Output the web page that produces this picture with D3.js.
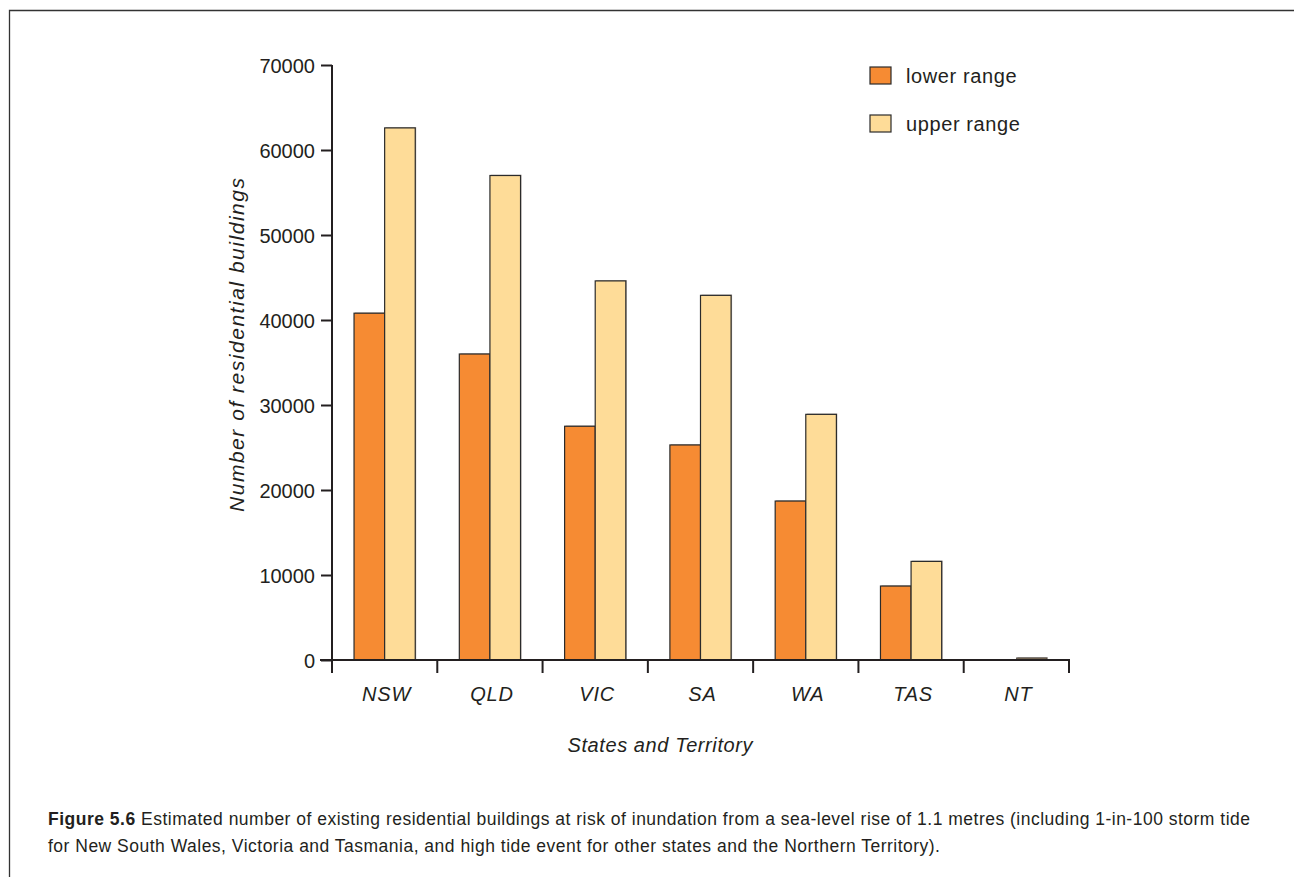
<!DOCTYPE html>
<html>
<head>
<meta charset="utf-8">
<script src="https://cdn.jsdelivr.net/npm/d3@7"></script>
<style>
  html, body { margin: 0; padding: 0; background: #fff; }
  svg { display: block; }
  text { font-family: "Liberation Sans", Arial, Helvetica, sans-serif; fill: #231f20; }
</style>
</head>
<body>
<svg id="chart" width="1294" height="877"></svg>
<script>
const categories = ["NSW", "QLD", "VIC", "SA", "WA", "TAS", "NT"];
const seriesNames = ["lower range", "upper range"];
const lowerRange = [40800, 36000, 27500, 25300, 18700, 8700, 0];
const upperRange = [62600, 57000, 44600, 42900, 28900, 11600, 250];
const yTicks = [0, 10000, 20000, 30000, 40000, 50000, 60000, 70000];
const colors = ["#f68b33", "#fedc98"];
const yTitle = "Number of residential buildings";
const xTitle = "States and Territory";
const captionBold = "Figure 5.6";
const captionLines = [
  " Estimated number of existing residential buildings at risk of inundation from a sea-level rise of 1.1 metres (including 1-in-100 storm tide",
  "for New South Wales, Victoria and Tasmania, and high tide event for other states and the Northern Territory)."
];

const svg = d3.select("#chart");

// frame
svg.append("path")
  .attr("d", "M9.5,877 L9.5,10.5 L1294,10.5")
  .attr("fill", "none").attr("stroke", "#333").attr("stroke-width", 1.3);

const x0 = 332, x1 = 1069, yTop = 65, yBase = 660;

const x = d3.scaleBand().domain(categories).range([x0, x1]).paddingInner(0).paddingOuter(0);
const xs = d3.scaleBand().domain(seriesNames).range([0, x.bandwidth()]).paddingInner(0).paddingOuter(0.72);
const y = d3.scaleLinear().domain([0, 70000]).range([yBase, yTop]);

const data = categories.map((c, i) => ({cat: c, vals: [lowerRange[i], upperRange[i]]}));

// bars
const g = svg.append("g");
data.forEach(d => {
  d.vals.forEach((v, j) => {
    if (v <= 0) return;
    const bx = x(d.cat) + xs(seriesNames[j]);
    const h = yBase - y(v);
    g.append("rect")
      .attr("x", bx + 1).attr("y", y(v) - 0.8)
      .attr("width", xs.bandwidth()).attr("height", h + 0.8)
      .attr("fill", "#8a7f76").attr("opacity", 0.6);
    g.append("rect")
      .attr("x", bx).attr("y", y(v))
      .attr("width", xs.bandwidth()).attr("height", h)
      .attr("fill", h < 4 ? "#7a6a55" : colors[j])
      .attr("stroke", "#2b2b2b").attr("stroke-width", h < 4 ? 0.5 : 1.2);
  });
});

// y axis
const yAxis = d3.axisLeft(y).tickValues(yTicks).tickSize(11).tickPadding(6).tickFormat(d3.format("d"));
const yg = svg.append("g").attr("transform", `translate(${x0},0)`).call(yAxis);
yg.select(".domain").remove();
yg.append("line").attr("x1", 0).attr("x2", 0).attr("y1", yTop).attr("y2", yBase + 13)
  .attr("stroke", "#231f20").attr("stroke-width", 2);
yg.selectAll(".tick line").attr("stroke", "#231f20").attr("stroke-width", 2);
yg.selectAll(".tick text").style("font-size", "20px").attr("fill", "#231f20")
  .style("font-family", "'Liberation Sans', Arial, sans-serif").attr("dy", "0.35em");

// x axis
const xg = svg.append("g").attr("transform", `translate(0,${yBase})`);
xg.append("line").attr("x1", x0 - 12).attr("x2", x1 + 1).attr("y1", 0).attr("y2", 0)
  .attr("stroke", "#231f20").attr("stroke-width", 2);
const tickPos = categories.map(c => x(c)).concat([x(categories[categories.length - 1]) + x.bandwidth()]);
xg.selectAll(".xt").data(tickPos).enter().append("line")
  .attr("x1", d => d).attr("x2", d => d).attr("y1", 0).attr("y2", 13)
  .attr("stroke", "#231f20").attr("stroke-width", 2);
xg.selectAll(".xl").data(categories).enter().append("text")
  .attr("x", d => x(d) + x.bandwidth() / 2 + 2).attr("y", 41)
  .attr("text-anchor", "middle").style("font-size", "20px").style("font-style", "italic")
  .style("letter-spacing", "0.8px")
  .text(d => d);

// titles
svg.append("text").attr("x", 660).attr("y", 752).attr("text-anchor", "middle")
  .style("font-size", "20px").style("font-style", "italic")
  .attr("textLength", 185).attr("lengthAdjust", "spacing").text(xTitle);
svg.append("text").attr("transform", "translate(244,345) rotate(-90)").attr("text-anchor", "middle")
  .style("font-size", "21px").style("font-style", "italic")
  .attr("textLength", 334).attr("lengthAdjust", "spacing").text(yTitle);

// legend
const lg = svg.append("g");
seriesNames.forEach((s, i) => {
  const ly = 67 + i * 48;
  lg.append("rect").attr("x", 870).attr("y", ly).attr("width", 21).attr("height", 17)
    .attr("fill", colors[i]).attr("stroke", "#2b2b2b").attr("stroke-width", 1.2);
  lg.append("text").attr("x", 906).attr("y", ly + 16).style("font-size", "20px")
    .style("letter-spacing", "0.6px").text(s);
});

// caption
const cap = svg.append("g");
const t1 = cap.append("text").attr("x", 48).attr("y", 825).style("font-size", "17.5px")
  .attr("textLength", 1202).attr("lengthAdjust", "spacing");
t1.append("tspan").style("font-weight", "bold").text(captionBold);
t1.append("tspan").text(captionLines[0]);
cap.append("text").attr("x", 48).attr("y", 852).style("font-size", "17.5px")
  .attr("textLength", 892).attr("lengthAdjust", "spacing").text(captionLines[1]);
</script>
</body>
</html>
